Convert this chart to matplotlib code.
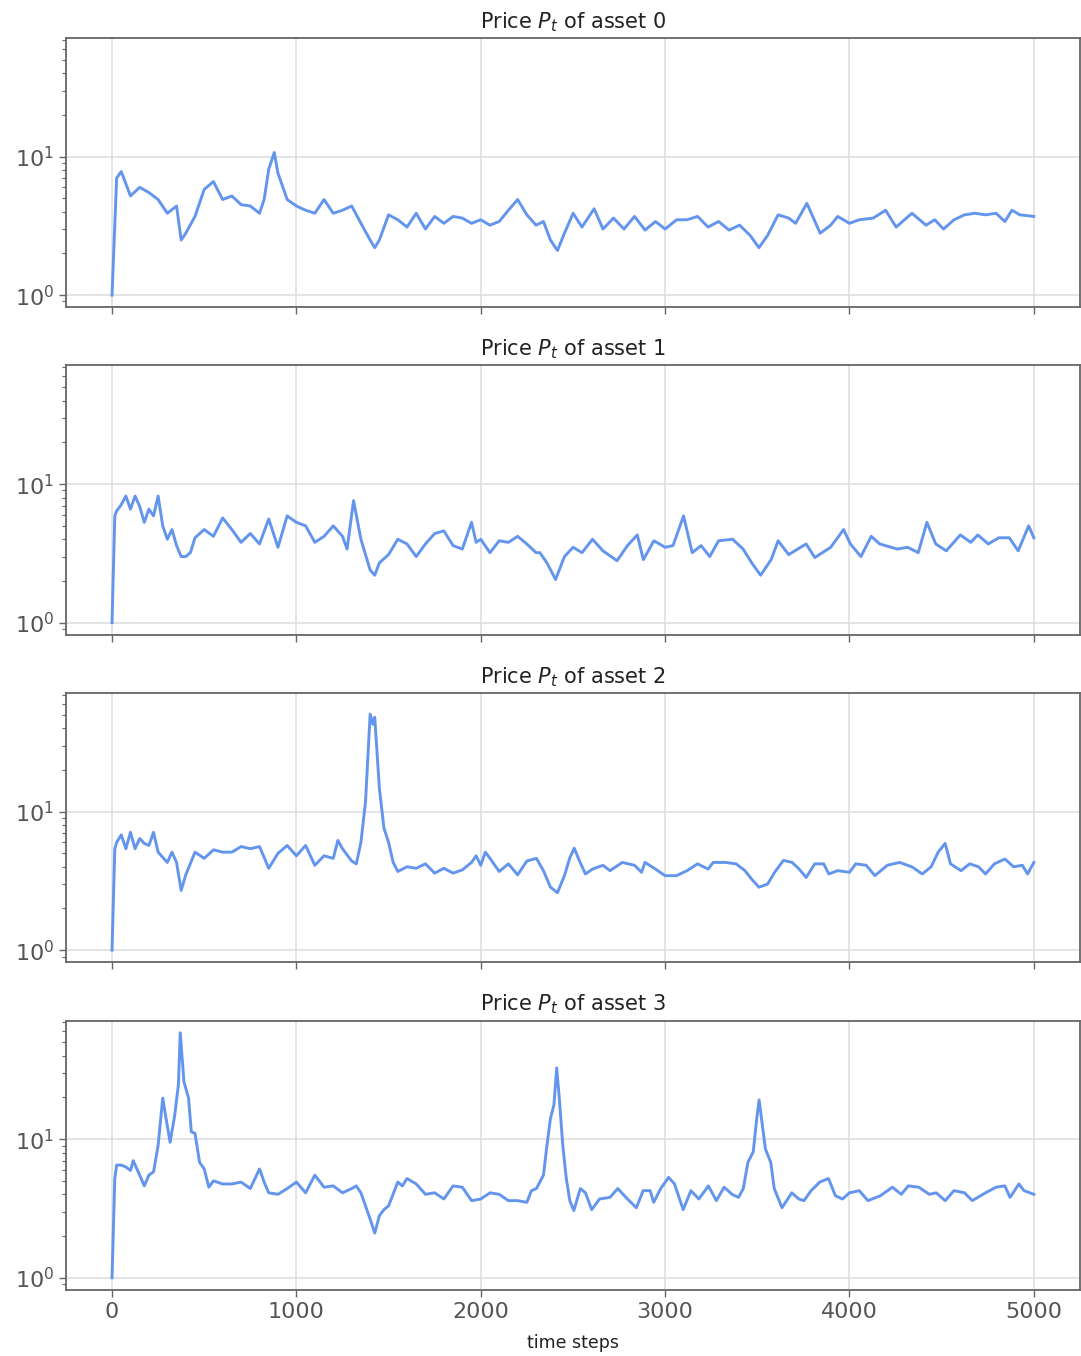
import matplotlib
matplotlib.use("Agg")
import matplotlib.pyplot as plt
import numpy as np

# Price paths of four assets, read as (time step, price) pairs
steps_0 = [0, 25, 50, 100, 150, 200, 250, 300, 350, 375, 400, 450, 500, 550, 600, 650,
           700, 750, 800, 825, 850, 880, 900, 950, 1000, 1050, 1100, 1150, 1200, 1250,
           1300, 1350, 1400, 1425, 1450, 1500, 1550, 1600, 1650, 1700, 1750, 1800, 1850,
           1900, 1950, 2000, 2050, 2100, 2150, 2200, 2250, 2300, 2340, 2378, 2416, 2454,
           2501, 2549, 2615, 2663, 2720, 2777, 2834, 2891, 2948, 3000, 3062, 3119, 3176,
           3233, 3290, 3347, 3404, 3461, 3509, 3556, 3613, 3670, 3708, 3769, 3841, 3898,
           3936, 4000, 4053, 4129, 4196, 4253, 4339, 4415, 4463, 4510, 4567, 4624, 4681,
           4738, 4795, 4843, 4881, 4924, 5000]
price_0 = [1.0, 7.0, 7.8, 5.2, 6.0, 5.5, 4.9, 3.9, 4.4, 2.5, 2.8, 3.7, 5.8, 6.6, 4.9, 5.2,
           4.5, 4.4, 3.9, 4.9, 8.1, 10.7, 7.6, 4.9, 4.4, 4.1, 3.9, 4.9, 3.9, 4.1,
           4.4, 3.3, 2.5, 2.2, 2.5, 3.8, 3.5, 3.1, 3.9, 3.0, 3.7, 3.3, 3.7,
           3.6, 3.3, 3.5, 3.2, 3.4, 4.1, 4.9, 3.8, 3.2, 3.4, 2.5, 2.1, 2.8,
           3.9, 3.1, 4.2, 3.0, 3.6, 3.0, 3.7, 2.95, 3.4, 3.0, 3.5, 3.5, 3.7,
           3.1, 3.4, 2.95, 3.2, 2.7, 2.2, 2.7, 3.8, 3.6, 3.3, 4.6, 2.8, 3.2,
           3.7, 3.3, 3.5, 3.6, 4.1, 3.1, 3.9, 3.2, 3.5, 3.0, 3.5, 3.8, 3.9,
           3.8, 3.9, 3.4, 4.1, 3.8, 3.7]

steps_1 = [0, 15, 25, 50, 75, 100, 125, 150, 175, 200, 225, 250, 275, 300, 325, 350, 375,
           400, 425, 450, 500, 550, 600, 650, 700, 750, 800, 850, 900, 950, 1000, 1050,
           1100, 1150, 1200, 1250, 1275, 1310, 1350, 1400, 1425, 1450, 1500, 1550, 1600,
           1650, 1700, 1750, 1800, 1850, 1900, 1950, 1975, 2000, 2050, 2100, 2150, 2200,
           2250, 2300, 2321, 2359, 2406, 2454, 2501, 2549, 2606, 2663, 2739, 2796, 2849,
           2882, 2939, 3000, 3043, 3100, 3147, 3195, 3242, 3290, 3366, 3423, 3470, 3518,
           3575, 3613, 3670, 3765, 3812, 3898, 3968, 4005, 4062, 4118, 4164, 4259, 4316,
           4373, 4420, 4468, 4525, 4601, 4658, 4696, 4753, 4810, 4867, 4915, 4972, 5000]
price_1 = [1.0, 5.9, 6.4, 7.1, 8.2, 6.6, 8.2, 6.9, 5.3, 6.6, 5.9, 8.2, 5.0, 4.0, 4.7, 3.6, 3.0,
           3.0, 3.2, 4.1, 4.7, 4.2, 5.7, 4.7, 3.8, 4.4, 3.7, 5.6, 3.5, 5.9, 5.3, 5.0,
           3.8, 4.2, 5.0, 4.2, 3.4, 7.6, 4.0, 2.4, 2.2, 2.7, 3.1, 4.0, 3.7,
           3.0, 3.7, 4.4, 4.6, 3.6, 3.4, 5.3, 3.8, 4.0, 3.2, 3.9, 3.8, 4.2,
           3.7, 3.2, 3.2, 2.7, 2.05, 3.0, 3.5, 3.2, 4.0, 3.3, 2.8, 3.6, 4.3,
           2.85, 3.9, 3.5, 3.6, 5.9, 3.2, 3.6, 3.0, 3.9, 4.0, 3.4, 2.7, 2.2,
           2.85, 3.9, 3.1, 3.7, 2.95, 3.5, 4.7, 3.7, 3.0, 4.2, 3.7, 3.4, 3.5,
           3.2, 5.3, 3.7, 3.3, 4.3, 3.8, 4.3, 3.7, 4.1, 4.1, 3.3, 5.0, 4.1]

steps_2 = [0, 15, 25, 50, 75, 100, 125, 150, 175, 200, 225, 250, 300, 325, 350, 375, 400,
           450, 500, 550, 600, 650, 700, 750, 800, 850, 900, 950, 1000, 1050, 1100, 1150,
           1200, 1225, 1250, 1300, 1325, 1350, 1375, 1400, 1415, 1425, 1450, 1475, 1500,
           1525, 1550, 1600, 1650, 1700, 1750, 1800, 1850, 1900, 1950, 1975, 2000, 2025,
           2050, 2100, 2150, 2200, 2250, 2302, 2340, 2378, 2416, 2454, 2482, 2507, 2539,
           2568, 2606, 2663, 2701, 2768, 2834, 2872, 2891, 2948, 3000, 3062, 3119, 3176,
           3233, 3261, 3328, 3385, 3433, 3470, 3509, 3556, 3594, 3642, 3689, 3727, 3765,
           3812, 3860, 3888, 3936, 4000, 4034, 4091, 4138, 4205, 4272, 4338, 4395, 4443,
           4481, 4519, 4548, 4605, 4652, 4700, 4738, 4786, 4843, 4890, 4938, 4966, 5000]
price_2 = [1.0, 5.4, 6.0, 6.8, 5.4, 7.1, 5.4, 6.4, 5.9, 5.7, 7.1, 5.1, 4.3, 5.1, 4.3, 2.7, 3.5,
           5.1, 4.6, 5.3, 5.1, 5.1, 5.6, 5.4, 5.6, 3.9, 5.0, 5.7, 4.8, 5.7, 4.1, 4.8,
           4.6, 6.2, 5.4, 4.4, 4.2, 6.0, 11.8, 50.5, 42.7, 48.0, 14.8, 7.6, 6.0,
           4.3, 3.7, 4.0, 3.9, 4.2, 3.6, 3.9, 3.6, 3.8, 4.3, 4.8, 4.1, 5.1,
           4.6, 3.7, 4.2, 3.5, 4.4, 4.6, 3.75, 2.85, 2.6, 3.45, 4.6, 5.45, 4.3,
           3.55, 3.85, 4.1, 3.75, 4.3, 4.1, 3.65, 4.3, 3.85, 3.45, 3.45, 3.75, 4.2,
           3.85, 4.3, 4.3, 4.2, 3.75, 3.25, 2.85, 3.0, 3.65, 4.45, 4.3, 3.85, 3.35,
           4.2, 4.2, 3.55, 3.75, 3.65, 4.2, 4.1, 3.45, 4.1, 4.3, 4.0, 3.55, 4.0,
           5.1, 5.9, 4.2, 3.75, 4.2, 4.0, 3.55, 4.2, 4.55, 4.0, 4.1, 3.55, 4.3]

steps_3 = [0, 15, 25, 50, 75, 100, 115, 150, 175, 200, 225, 250, 275, 290, 315, 340, 360,
           370, 390, 415, 430, 450, 475, 500, 525, 550, 600, 650, 700, 750, 800, 825, 850,
           900, 950, 1000, 1050, 1100, 1150, 1200, 1250, 1300, 1325, 1350, 1375, 1400,
           1425, 1450, 1475, 1500, 1550, 1575, 1600, 1650, 1700, 1750, 1800, 1850, 1900,
           1950, 2000, 2050, 2100, 2150, 2200, 2250, 2275, 2302, 2340, 2359, 2378, 2397,
           2412, 2426, 2445, 2464, 2483, 2505, 2540, 2568, 2602, 2644, 2701, 2743, 2796,
           2844, 2881, 2919, 2938, 2976, 3019, 3051, 3098, 3140, 3183, 3235, 3278, 3320,
           3363, 3398, 3424, 3449, 3478, 3497, 3510, 3525, 3544, 3573, 3592, 3634, 3687,
           3725, 3753, 3792, 3839, 3886, 3924, 3962, 4000, 4053, 4100, 4167, 4233, 4281,
           4319, 4376, 4433, 4471, 4519, 4567, 4624, 4666, 4738, 4795, 4843, 4871, 4919,
           4947, 5000]
price_3 = [1.0, 5.2, 6.5, 6.5, 6.3, 5.95, 7.0, 5.5, 4.6, 5.5, 5.8, 9.0, 19.8, 14.9, 9.5, 14.9, 24.7,
           58.6, 26.0, 19.8, 11.3, 11.0, 6.8, 6.1, 4.5, 5.0, 4.75, 4.75, 4.9, 4.4, 6.1, 4.9, 4.1,
           4.0, 4.4, 4.9, 4.1, 5.5, 4.5, 4.6, 4.1, 4.4, 4.6, 4.1, 3.3, 2.65,
           2.1, 2.8, 3.1, 3.3, 4.9, 4.6, 5.2, 4.75, 4.0, 4.1, 3.7, 4.6, 4.5,
           3.6, 3.7, 4.1, 4.0, 3.6, 3.6, 3.5, 4.25, 4.4, 5.5, 9.0, 14.1, 17.7,
           32.7, 19.8, 9.0, 5.2, 3.6, 3.05, 4.4, 4.1, 3.1, 3.7, 3.8, 4.4, 3.7,
           3.2, 4.25, 4.25, 3.5, 4.4, 5.3, 4.75, 3.1, 4.25, 3.7, 4.6, 3.6, 4.5,
           4.0, 3.8, 4.4, 6.8, 8.1, 14.1, 19.2, 13.4, 8.5, 6.8, 4.4, 3.2, 4.1,
           3.7, 3.6, 4.25, 4.9, 5.2, 3.9, 3.7, 4.1, 4.25, 3.6, 3.9, 4.5, 4.0,
           4.6, 4.5, 4.0, 4.1, 3.6, 4.25, 4.1, 3.6, 4.1, 4.5, 4.6, 3.8, 4.75,
           4.25, 4.0]

series = [(steps_0, price_0), (steps_1, price_1), (steps_2, price_2), (steps_3, price_3)]

line_color = "#6495ED"
axis_grey = "#666666"
text_grey = "#555555"

plt.rcParams["font.family"] = ["DejaVu Sans"]

fig, axes = plt.subplots(4, 1, figsize=(10.81, 13.56), dpi=100, sharex=True, sharey=True)
fig.subplots_adjust(left=0.061, right=0.999, bottom=0.0487, top=0.972, hspace=0.2156)

for i, (ax, (t, p)) in enumerate(zip(axes, series)):
    ax.plot(t, p, color=line_color, linewidth=2.1)
    ax.set_yscale("log")
    ax.set_title(f"Price $P_t$ of asset {i}", fontsize=15, color="#222222", pad=7)
    ax.grid(True, which="major", color="#dddddd", linewidth=1.1)
    ax.set_axisbelow(True)
    for sp in ax.spines.values():
        sp.set_color(axis_grey)
        sp.set_linewidth(1.3)
    ax.tick_params(axis="both", which="major", colors=axis_grey, labelcolor=text_grey,
                   labelsize=16, length=5, width=1.0)
    ax.tick_params(axis="y", which="minor", colors=axis_grey, length=3, width=0.8)

axes[-1].set_xticks([0, 1000, 2000, 3000, 4000, 5000])
axes[-1].set_xlabel("time steps", fontsize=12.5, color="#222222", labelpad=9)

fig.savefig("out.png", dpi=100)
